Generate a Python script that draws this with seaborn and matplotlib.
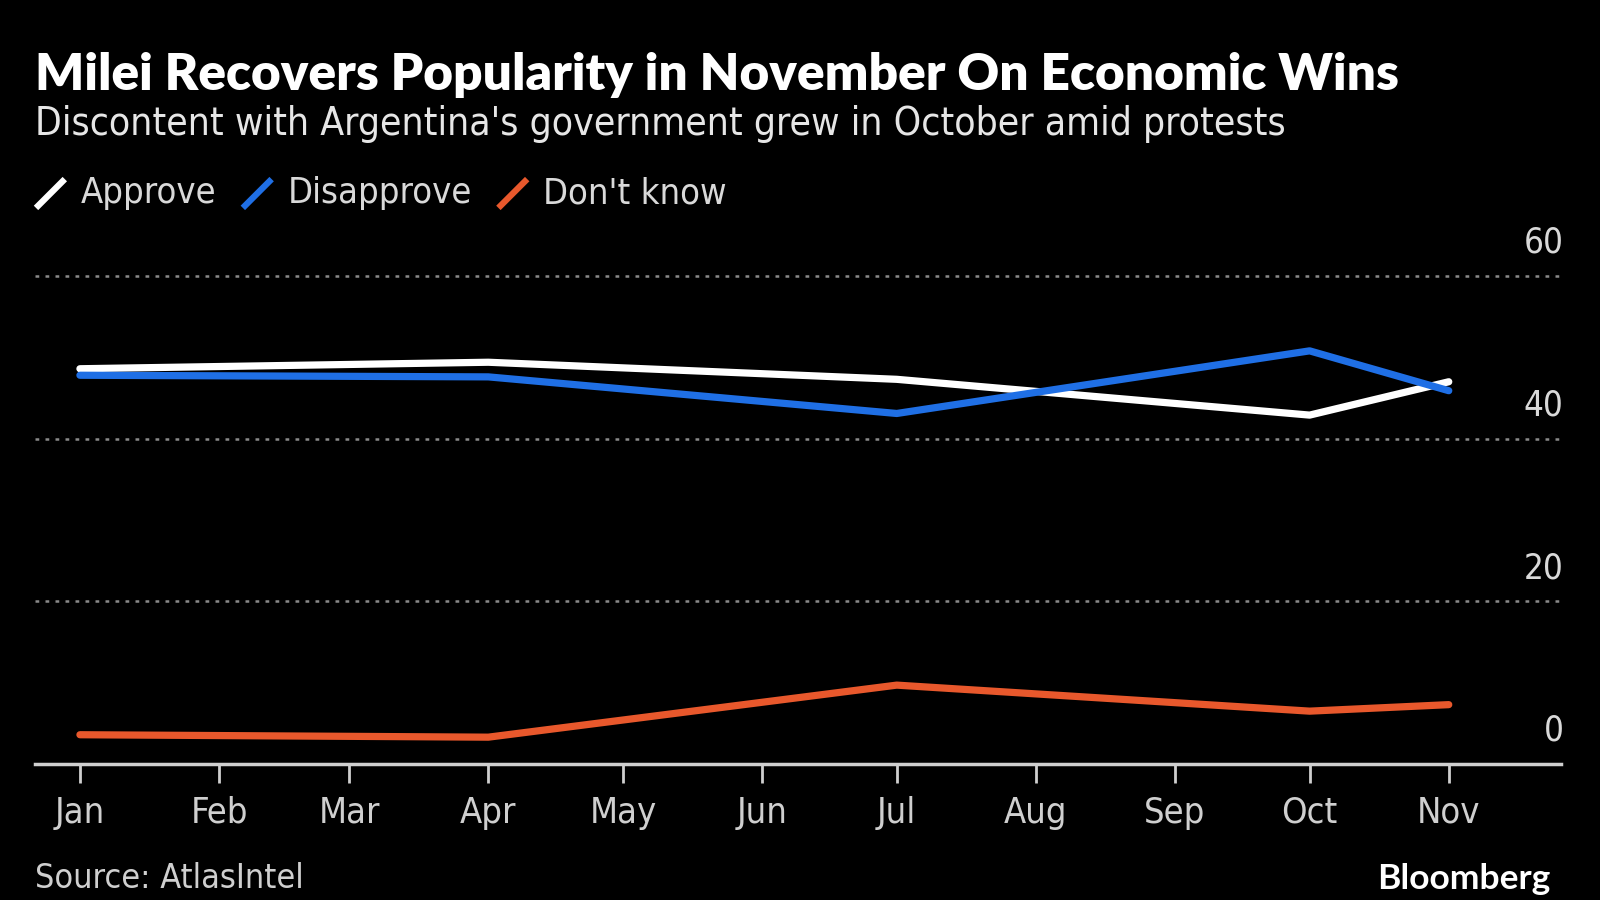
import matplotlib
matplotlib.use("Agg")
import matplotlib.pyplot as plt
import matplotlib.transforms as mtransforms
from matplotlib.lines import Line2D
import seaborn as sns
import pandas as pd

# ---- data ----
dates = ["2024-01-01", "2024-04-01", "2024-07-01", "2024-10-01", "2024-11-01"]
approve = [48.6, 49.4, 47.3, 42.9, 47.0]
disapprove = [47.8, 47.6, 43.1, 50.8, 45.9]
dont_know = [3.6, 3.3, 9.7, 6.5, 7.3]
series_names = ["Approve", "Disapprove", "Don't know"]
colors = ["#ffffff", "#1f6fe5", "#e8582c"]
month_labels = ["Jan", "Feb", "Mar", "Apr", "May", "Jun", "Jul", "Aug", "Sep", "Oct", "Nov"]
y_ticks = [0, 20, 40, 60]

title = "Milei Recovers Popularity in November On Economic Wins"
subtitle = "Discontent with Argentina's government grew in October amid protests"
source = "Source: AtlasIntel"

df = pd.DataFrame({
    "date": pd.to_datetime(dates * 3),
    "value": approve + disapprove + dont_know,
    "series": [s for s in series_names for _ in dates],
})

sns.set_theme(style="dark")
plt.rcParams["font.family"] = ["DejaVu Sans"]
plt.rcParams["font.stretch"] = "condensed"

BG = "#000000"
fig = plt.figure(figsize=(16, 9), dpi=100, facecolor=BG)
ax = fig.add_axes([0.0219, 0.1511, 0.9537, 0.5422])
ax.set_facecolor(BG)

sns.lineplot(data=df, x="date", y="value", hue="series", palette=dict(zip(series_names, colors)),
             linewidth=5.2, ax=ax, legend=False, solid_capstyle="round", sort=False)

ax.set_xlim(pd.Timestamp("2023-12-22"), pd.Timestamp("2024-11-26"))
ax.set_ylim(0, 60)

# x ticks
tick_dates = pd.date_range("2024-01-01", "2024-11-01", freq="MS")
ax.set_xticks(tick_dates)
ax.set_xticklabels(month_labels)
ax.tick_params(axis="x", bottom=True, colors="#cfcfcf", length=14, width=2, pad=9,
               labelsize=26, direction="out")
ax.set_xlabel("")
ax.set_ylabel("")
ax.set_yticks([])

for side in ["top", "right", "left"]:
    ax.spines[side].set_visible(False)
ax.spines["bottom"].set_color("#cfcfcf")
ax.spines["bottom"].set_linewidth(2.5)
ax.grid(False)

# y gridlines & labels
for v in y_ticks:
    if v > 0:
        ax.axhline(v, color="#8a8a8a", linewidth=1.8, linestyle=(0, (1.5, 2.5)), zorder=0, clip_on=False)
trans = mtransforms.blended_transform_factory(ax.transAxes, ax.transData)
trans_off = mtransforms.offset_copy(trans, fig=fig, x=2, y=24, units="points")
for v in y_ticks:
    ax.text(1.0, v, str(v), transform=trans_off, ha="right", va="center",
            fontsize=25, color="#d9d9d9")

# titles
fig.text(0.022, 0.917, title, fontsize=37, fontweight="heavy", color="white",
         family=["Lato", "DejaVu Sans"], fontstretch="normal", va="center", ha="left")
fig.text(0.022, 0.862, subtitle, fontsize=28, color="#e6e6e6", va="center", ha="left")

# legend
leg_y = 0.785
x = 0.0225
for name, c in zip(series_names, colors):
    fig.add_artist(Line2D([x, x + 0.018], [leg_y - 0.016, leg_y + 0.016], color=c, linewidth=4.5,
                          transform=fig.transFigure, solid_capstyle="butt"))
    t = fig.text(x + 0.028, leg_y, name, fontsize=26, color="#d9d9d9", va="center", ha="left")
    fig.canvas.draw()
    bb = t.get_window_extent()
    x = bb.x1 / fig.bbox.width + 0.0165

# footer
fig.text(0.022, 0.006, source, fontsize=24.5, color="#cfcfcf", va="bottom", ha="left")
fig.text(0.969, 0.006, "Bloomberg", fontsize=25.5, fontweight="bold", color="white",
         family=["Lato", "DejaVu Sans"], fontstretch="normal", va="bottom", ha="right")

fig.savefig("out.png", dpi=100, facecolor=BG)
